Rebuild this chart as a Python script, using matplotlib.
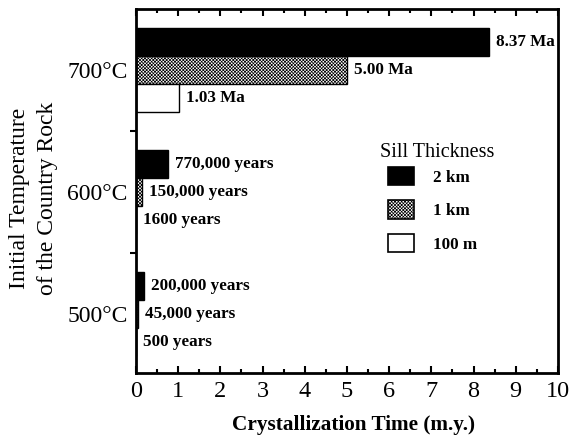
import matplotlib
matplotlib.use('Agg')
import matplotlib.pyplot as plt
from matplotlib.patches import Patch
from matplotlib.ticker import MultipleLocator

# 数据：结晶时间 (m.y.)
temperatures = ['500°C', '600°C', '700°C']
thickness = ['2 km', '1 km', '100 m']
time_2km = [0.2, 0.77, 8.37]
time_1km = [0.045, 0.15, 5.00]
time_100m = [0.0005, 0.0016, 1.03]
text_2km = ['200,000 years', '770,000 years', '8.37 Ma']
text_1km = ['45,000 years', '150,000 years', '5.00 Ma']
text_100m = ['500 years', '1600 years', '1.03 Ma']

plt.rcParams['font.family'] = ['Liberation Serif', 'DejaVu Serif']
plt.rcParams['hatch.linewidth'] = 0.5

fig = plt.figure(figsize=(5.75, 4.4), dpi=100)
ax = fig.add_axes([0.2365, 0.1523, 0.7339, 0.8272])

h = 0.23
pos = list(range(len(temperatures)))
styles = [dict(facecolor='black', edgecolor='black'),
          dict(facecolor='white', edgecolor='black', hatch='xxxxxxxxxx'),
          dict(facecolor='white', edgecolor='black')]
series = [time_2km, time_1km, time_100m]
texts = [text_2km, text_1km, text_100m]
offsets = [h, 0, -h]

# 三组条形，从上到下：2 km, 1 km, 100 m
for vals, labs, off, st in zip(series, texts, offsets, styles):
    ys = [p + off for p in pos]
    ax.barh(ys, vals, height=h, linewidth=1.0, **st)
    for y, v, t in zip(ys, vals, labs):
        ax.annotate(t, (v, y), xytext=(5, 0), textcoords='offset points',
                    ha='left', va='center', fontsize=12.3, fontweight='bold')

ax.set_xlim(0, 10)
ax.set_ylim(-0.484, 2.5)
ax.xaxis.set_major_locator(MultipleLocator(1))
ax.xaxis.set_minor_locator(MultipleLocator(0.5))
ax.tick_params(axis='x', which='both', direction='in', top=True, width=1.5)
ax.tick_params(axis='x', which='major', length=5, labelsize=17.5, pad=6)
ax.tick_params(axis='x', which='minor', length=3)

ax.set_yticks(pos)
ax.set_yticklabels(temperatures, fontsize=17)
ax.set_yticks([0.5, 1.5], minor=True)
ax.tick_params(axis='y', which='major', length=0, pad=6)
ax.tick_params(axis='y', which='minor', direction='out', length=4, width=1.5)

for s in ax.spines.values():
    s.set_linewidth(2)

ax.set_xlabel('Crystallization Time (m.y.)', fontsize=15.3, fontweight='bold')
ax.xaxis.set_label_coords(0.516, -0.115)
fig.text(0.058, 1 - 198 / 440, 'Initial Temperature\nof the Country Rock',
         rotation=90, ha='center', va='center', multialignment='center',
         fontsize=17, linespacing=1.45)

# 图例（标题单独写）
handles = [Patch(linewidth=1.2, **st) for st in styles]
leg = ax.legend(handles, thickness, loc='upper left',
                bbox_to_anchor=(0.56, 0.609), frameon=False, handlelength=1.55,
                handleheight=1.3, handletextpad=1.1, labelspacing=0.85,
                prop={'size': 12.3, 'weight': 'bold'})
ax.text(0.713, 1 - (152 - 9) / 364, 'Sill Thickness', transform=ax.transAxes,
        ha='center', va='center', fontsize=14.5)

plt.savefig('out.png', dpi=100)
